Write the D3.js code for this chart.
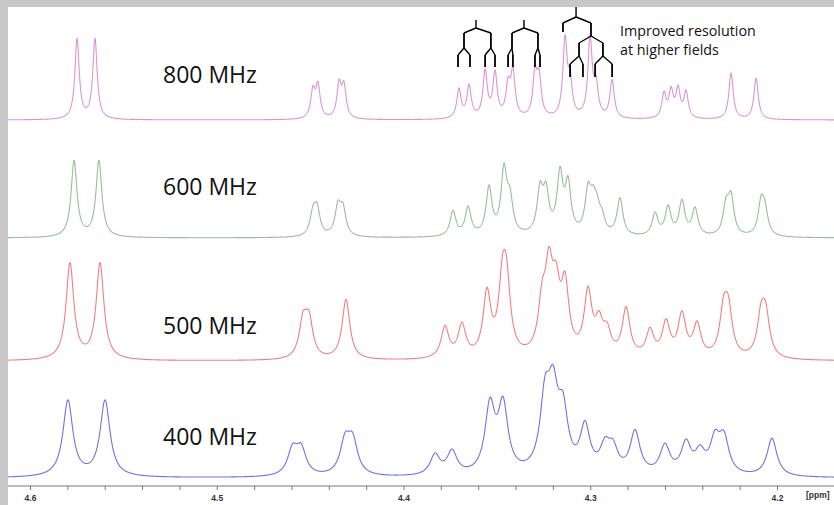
<!DOCTYPE html>
<html>
<head>
<meta charset="utf-8">
<script src="https://cdn.jsdelivr.net/npm/d3@7"></script>
<style>
  body { margin: 0; background: #c8c8c8; }
  svg { display: block; }
</style>
</head>
<body>
<svg id="chart" width="834" height="505"></svg>
<script>
// field strengths, top to bottom
let fields = ["800 MHz", "600 MHz", "500 MHz", "400 MHz"];

// peaks: [ppm, height] (height in px above baseline)
let peaks800 = [
  [4.5748, 80], [4.5652, 80],
  [4.4485, 27], [4.4458, 32], [4.4345, 33], [4.4319, 31],
  [4.3703, 29], [4.3649, 32], [4.3563, 46], [4.3510, 44],
  [4.3440, 30], [4.3414, 44], [4.3296, 40], [4.3274, 38],
  [4.3135, 76], [4.3108, 32], [4.3001, 78], [4.2969, 30], [4.2883, 38],
  [4.2605, 24], [4.2567, 26], [4.2530, 28], [4.2487, 26],
  [4.2246, 46], [4.2112, 41]
];
let peaks600 = [
  [4.5764, 76], [4.5631, 76],
  [4.4485, 21], [4.4463, 25], [4.4351, 28], [4.4324, 25],
  [4.3735, 25], [4.3654, 28], [4.3542, 47], [4.3462, 62], [4.3430, 32],
  [4.3269, 42], [4.3237, 39], [4.3162, 58], [4.3119, 48],
  [4.3012, 40], [4.2985, 26], [4.2964, 20], [4.2937, 14], [4.2841, 37],
  [4.2653, 22], [4.2583, 28], [4.2509, 34], [4.2439, 27],
  [4.2273, 28], [4.2246, 36], [4.2085, 32], [4.2064, 22]
];
let peaks500 = [
  [4.5786, 96], [4.5625, 96],
  [4.4538, 35], [4.4506, 36], [4.4308, 60],
  [4.3778, 31], [4.3687, 32], [4.3553, 62], [4.3470, 63], [4.3448, 61],
  [4.3258, 45], [4.3221, 75], [4.3183, 55], [4.3135, 65],
  [4.3012, 62], [4.2953, 30], [4.2910, 22], [4.2808, 48],
  [4.2680, 26], [4.2594, 34], [4.2509, 42], [4.2428, 32],
  [4.2286, 42], [4.2260, 42], [4.2085, 38], [4.2060, 38]
];
let peaks400 = [
  [4.5797, 76], [4.5598, 76],
  [4.4594, 25], [4.4548, 25], [4.4313, 32], [4.4272, 32],
  [4.3831, 20], [4.3740, 23], [4.3537, 66], [4.3467, 66],
  [4.3242, 68], [4.3199, 70], [4.3146, 55],
  [4.3028, 45], [4.2921, 24], [4.2878, 22], [4.2760, 42],
  [4.2600, 28], [4.2487, 30], [4.2412, 20],
  [4.2332, 32], [4.2284, 34], [4.2027, 38]
];
let allPeaks = [peaks800, peaks600, peaks500, peaks400];

// splitting trees over the 800 MHz trace, ppm of each level
let tree1 = [[4.3612], [4.3676, 4.3532], [4.3708, 4.3644, 4.3563, 4.3510]];
let tree2 = [[4.3355], [4.3419, 4.3280], [4.3440, 4.3414, 4.3296, 4.3269]];
let tree3 = [[4.3076], [4.3146, 4.2996], [4.3060, 4.2932], [4.3108, 4.3039, 4.2974, 4.2883]];

let tickValues = [4.6, 4.58, 4.56, 4.54, 4.52, 4.5, 4.48, 4.46, 4.44, 4.42, 4.4,
  4.38, 4.36, 4.34, 4.32, 4.3, 4.28, 4.26, 4.24, 4.22, 4.2];
let tickLabels = ["4.6", "4.5", "4.4", "4.3", "4.2"];

// layout
let baselines = [120, 238, 361, 478];
let labelY = [83, 195, 334, 445];
let colors = ["#dc94d6", "#96c096", "#f28080", "#7272e8"];
let halfWidths = [0.0014, 0.0019, 0.0025, 0.0032];

let svg = d3.select("#chart");

svg.append("rect").attr("x", 8).attr("y", 7).attr("width", 826).attr("height", 498).attr("fill", "#fff");
svg.append("clipPath").attr("id", "plot").append("rect")
  .attr("x", 8).attr("y", 7).attr("width", 826).attr("height", 498);

let x = d3.scaleLinear().domain([4.6, 4.2]).range([30, 777]);
let y = d3.scaleLinear().domain([0, 100]).range([0, 100]);

let grid = d3.range(4.612, 4.168, -0.0001);

let line = d3.line().x((d) => x(d[0])).y((d) => d[1]);

let g = svg.append("g").attr("clip-path", "url(#plot)");

allPeaks.forEach((peaks, i) => {
  let w = halfWidths[i];
  let pts = grid.map((p) => {
    let s = 0;
    peaks.forEach((pk) => {
      let d = p - pk[0];
      s += pk[1] * w * w / (d * d + w * w);
    });
    return [p, baselines[i] - y(s)];
  });
  g.append("path")
    .attr("d", line(pts))
    .attr("fill", "none")
    .attr("stroke", colors[i])
    .attr("stroke-width", 1.1);

  svg.append("text")
    .attr("x", 163).attr("y", labelY[i])
    .attr("font-family", "Open Sans, sans-serif")
    .attr("font-size", 23)
    .attr("fill", "#111")
    .text(fields[i]);
});

// trees
let drawTree = (levels, ys) => {
  let tg = g.append("g").attr("stroke", "#000").attr("stroke-width", 1.4).attr("fill", "none");
  tg.append("line").attr("x1", x(levels[0][0])).attr("x2", x(levels[0][0]))
    .attr("y1", ys[0]).attr("y2", ys[1]);
  for (let l = 1; l < levels.length; l++) {
    let parents = levels[l - 1];
    let kids = levels[l];
    let top = ys[2 * l - 1], mid = ys[2 * l], bot = ys[2 * l + 1];
    kids.forEach((k, j) => {
      let parent = parents[Math.floor(j / 2)];
      tg.append("line").attr("x1", x(parent)).attr("x2", x(k)).attr("y1", top).attr("y2", mid);
      tg.append("line").attr("x1", x(k)).attr("x2", x(k)).attr("y1", mid).attr("y2", bot)
        .attr("stroke-width", 1.8);
    });
  }
};
drawTree(tree1, [20, 28, 33, 48, 55, 67]);
drawTree(tree2, [20, 28, 33, 48, 55, 67]);

// tree 3: first split, then the right branch splits twice more
let t3 = g.append("g").attr("stroke", "#000").attr("stroke-width", 1.4).attr("fill", "none");
t3.append("line").attr("x1", x(tree3[0][0])).attr("x2", x(tree3[0][0])).attr("y1", 7).attr("y2", 17);
tree3[1].forEach((k, j) => {
  t3.append("line").attr("x1", x(tree3[0][0])).attr("x2", x(k)).attr("y1", 17).attr("y2", 23);
  t3.append("line").attr("x1", x(k)).attr("x2", x(k)).attr("y1", 23).attr("y2", j === 0 ? 32 : 36)
    .attr("stroke-width", 1.8);
});
tree3[2].forEach((k) => {
  t3.append("line").attr("x1", x(tree3[1][1])).attr("x2", x(k)).attr("y1", 36).attr("y2", 43);
  t3.append("line").attr("x1", x(k)).attr("x2", x(k)).attr("y1", 43).attr("y2", 56).attr("stroke-width", 1.8);
});
tree3[3].forEach((k, j) => {
  let parent = tree3[2][Math.floor(j / 2)];
  t3.append("line").attr("x1", x(parent)).attr("x2", x(k)).attr("y1", 56).attr("y2", 64);
  t3.append("line").attr("x1", x(k)).attr("x2", x(k)).attr("y1", 64).attr("y2", 77).attr("stroke-width", 1.8);
});

svg.append("text").attr("x", 620).attr("y", 36)
  .attr("font-family", "Open Sans, sans-serif").attr("font-size", 14.3).attr("fill", "#111")
  .text("Improved resolution");
svg.append("text").attr("x", 620).attr("y", 55)
  .attr("font-family", "Open Sans, sans-serif").attr("font-size", 14.3).attr("fill", "#111")
  .text("at higher fields");

// axis
let axis = d3.axisBottom(x).tickValues(tickValues).tickSize(4)
  .tickFormat((d) => {
    let s = d3.format(".1f")(d);
    return (tickLabels.includes(s) && Math.abs(d * 10 - Math.round(d * 10)) < 1e-6) ? s : "";
  });
let ax = svg.append("g").attr("transform", "translate(0,486)").call(axis);
ax.select(".domain").attr("d", "M8,0H834").attr("stroke", "#777");
ax.selectAll(".tick line").attr("stroke", "#777");
ax.selectAll(".tick text").attr("font-family", "Liberation Sans, Arial, sans-serif")
  .attr("font-size", 8.5).attr("font-weight", "bold").attr("fill", "#333").attr("dy", "0.9em");
svg.append("text").attr("x", 806).attr("y", 498)
  .attr("font-family", "Liberation Sans, Arial, sans-serif").attr("font-size", 8.5)
  .attr("font-weight", "bold").attr("fill", "#333").text("[ppm]");
</script>
</body>
</html>
